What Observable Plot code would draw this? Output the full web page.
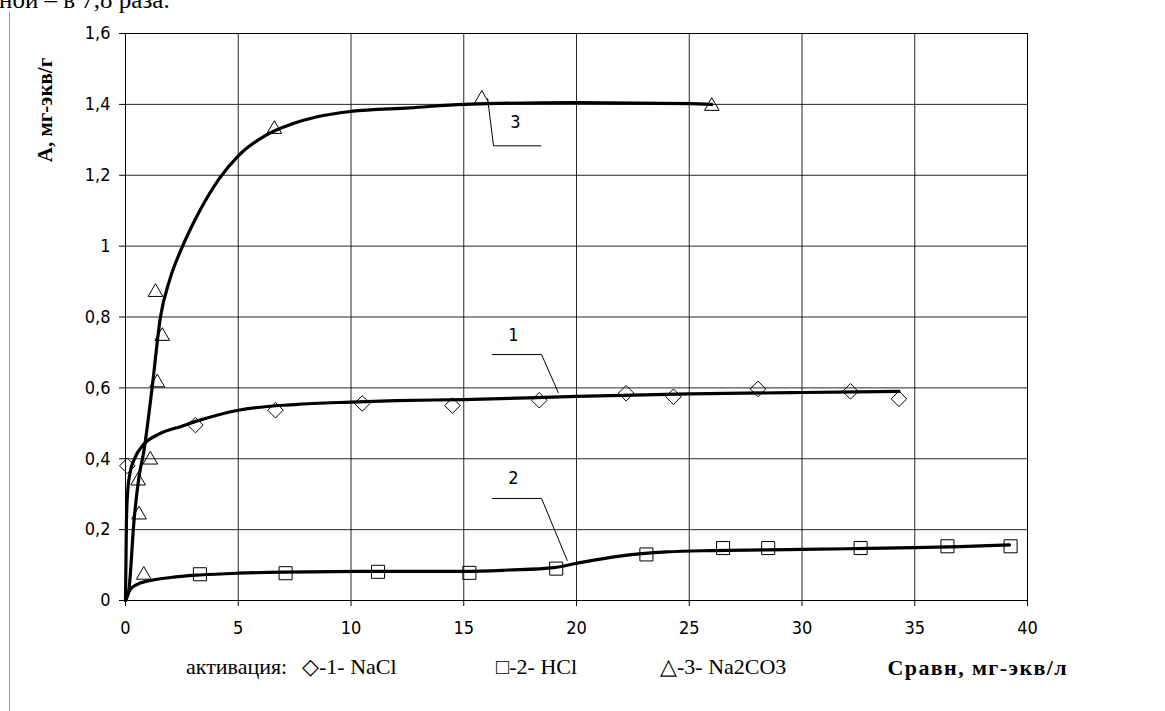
<!DOCTYPE html>
<html>
<head>
<meta charset="utf-8">
<script src="https://cdn.jsdelivr.net/npm/d3@7"></script>
<script src="https://cdn.jsdelivr.net/npm/@observablehq/plot@0.6"></script>
<style>
  html, body { margin: 0; padding: 0; background: #fff; }
  #wrap { position: relative; width: 1165px; height: 711px; overflow: hidden; background: #fff; }
  #chart { position: absolute; left: 0; top: 0; }
  .serif { font-family: "Liberation Serif", "Times New Roman", serif; color: #000; position: absolute; white-space: nowrap; line-height: 1; }
  #toptext { left: -1px; top: -13px; font-size: 25px; }
  #margin { position: absolute; left: 9px; top: 12px; width: 1px; height: 700px; background: #9a9a9a; }
  #ytitle { font-weight: bold; font-size: 21px; left: 45px; top: 110px; transform: translate(-50%, -50%) rotate(-90deg); }
  #xtitle { font-weight: bold; font-size: 22px; letter-spacing: 1.4px; right: 97px; top: 657px; }
  #legend { font-size: 22px; top: 656px; left: 0; }
  .lg { position: absolute; white-space: nowrap; }
</style>
</head>
<body>
<div id="wrap">
  <div id="toptext" class="serif">ной – в 7,8 раза.</div>
  <div id="margin"></div>
  <div id="chart"></div>
  <div id="ytitle" class="serif">А, мг-экв/г</div>
  <div id="xtitle" class="serif">Сравн, мг-экв/л</div>
  <div id="legend" class="serif">
    <span class="lg" style="left:186px">активация:</span>
    <span class="lg" style="left:302px">◇-1- NaCl</span>
    <span class="lg" style="left:496px">□-2- HCl</span>
    <span class="lg" style="left:660px">△-3- Na2CO3</span>
  </div>
</div>
<script>
// ---- data ----
const xTicks = [0, 5, 10, 15, 20, 25, 30, 35, 40];
const yTicks = [0, 0.2, 0.4, 0.6, 0.8, 1.0, 1.2, 1.4, 1.6];

// series 1: NaCl (diamonds)
const naclX = [0.08, 3.1, 6.65, 10.5, 14.5, 18.35, 22.2, 24.3, 28.05, 32.15, 34.3];
const naclY = [0.38, 0.495, 0.537, 0.556, 0.55, 0.565, 0.585, 0.575, 0.597, 0.59, 0.569];
// series 2: HCl (squares)
const hclX = [3.3, 7.1, 11.2, 15.25, 19.1, 23.1, 26.5, 28.5, 32.6, 36.45, 39.25];
const hclY = [0.074, 0.077, 0.081, 0.078, 0.09, 0.13, 0.148, 0.148, 0.148, 0.153, 0.153];
// series 3: Na2CO3 (triangles)
const sodaX = [0.56, 0.6, 0.81, 1.1, 1.41, 1.63, 1.33, 6.6, 15.8, 26.0];
const sodaY = [0.338, 0.242, 0.072, 0.397, 0.615, 0.746, 0.87, 1.33, 1.415, 1.395];

// fitted curves (as drawn)
const fit1X = [0, 0.04, 0.1, 0.2, 0.4, 0.8, 1.5, 2.5, 3.3, 5, 7.5, 10, 12, 15, 20, 25, 30, 34.3];
const fit1Y = [0, 0.22, 0.31, 0.36, 0.4, 0.44, 0.47, 0.492, 0.509, 0.537, 0.553, 0.56, 0.564, 0.567, 0.576, 0.583, 0.587, 0.59];
const fit2X = [0, 0.2, 0.5, 1, 2, 3.3, 5, 7, 11, 15, 17, 19, 20, 22, 24, 26, 30, 33, 35, 37, 39.2];
const fit2Y = [0, 0.03, 0.045, 0.055, 0.065, 0.072, 0.077, 0.08, 0.082, 0.082, 0.086, 0.093, 0.105, 0.126, 0.137, 0.141, 0.144, 0.147, 0.149, 0.152, 0.157];
const fit3X = [0, 0.15, 0.37, 0.6, 0.81, 1.18, 1.55, 1.97, 2.5, 3.13, 4.15, 5, 6.2, 7.4, 8.5, 10, 12.6, 15, 20, 25, 26];
const fit3Y = [0, 0.03, 0.22, 0.35, 0.42, 0.6, 0.8, 0.907, 0.995, 1.08, 1.19, 1.255, 1.312, 1.345, 1.365, 1.38, 1.39, 1.4, 1.405, 1.402, 1.4];

// curve number call-outs
const calloutLabels = ["1", "2", "3"];
const calloutLabelX = [17.2, 17.2, 17.29];
const calloutLabelY = [0.748, 0.346, 1.35];
const leader1X = [16.27, 18.45, 19.19], leader1Y = [0.694, 0.694, 0.587];
const leader2X = [16.27, 18.45, 19.59], leader2Y = [0.288, 0.288, 0.113];
const leader3X = [16.06, 16.32, 18.42], leader3Y = [1.416, 1.283, 1.283];

const zip = (xs, ys) => xs.map((x, i) => ({x, y: ys[i]}));
const comma = d => d3.format("~g")(+d.toFixed(2)).replace(".", ",");

const chart = Plot.plot({
  width: 1165,
  height: 645,
  marginTop: 33,
  marginLeft: 125,
  marginRight: 138,
  marginBottom: 45,
  style: {fontFamily: "'Liberation Sans Narrow', 'DejaVu Sans Condensed', sans-serif", fontSize: "18px", color: "#000", background: "transparent"},
  x: {domain: [0, 40], ticks: xTicks, label: null},
  y: {domain: [0, 1.6], ticks: yTicks, label: null},
  marks: [
    Plot.gridX(xTicks, {stroke: "#000", strokeOpacity: 0.85, strokeWidth: 1}),
    Plot.gridY(yTicks, {stroke: "#000", strokeOpacity: 0.85, strokeWidth: 1}),
    Plot.frame({stroke: "#000", strokeWidth: 1}),
    Plot.axisX({ticks: xTicks, tickSize: 6, tickPadding: 15, tickFormat: d => String(d), label: null, stroke: "#000"}),
    Plot.axisY({ticks: yTicks, tickSize: 6, tickPadding: 9, tickFormat: comma, label: null, stroke: "#000"}),
    Plot.line(zip(fit1X, fit1Y), {x: "x", y: "y", stroke: "#000", strokeWidth: 3.2, curve: "monotone-x"}),
    Plot.line(zip(fit2X, fit2Y), {x: "x", y: "y", stroke: "#000", strokeWidth: 3.2, curve: "monotone-x"}),
    Plot.line(zip(fit3X, fit3Y), {x: "x", y: "y", stroke: "#000", strokeWidth: 3.2, curve: "monotone-x"}),
    Plot.dot(zip(naclX, naclY), {x: "x", y: "y", symbol: "diamond2", r: 7, stroke: "#000", strokeWidth: 1, fill: "none"}),
    Plot.dot(zip(hclX, hclY), {x: "x", y: "y", symbol: "square2", r: 8.3, stroke: "#000", strokeWidth: 1, fill: "none"}),
    Plot.dot(zip(sodaX, sodaY), {x: "x", y: "y", symbol: "triangle2", r: 7, stroke: "#000", strokeWidth: 1, fill: "none"}),
    Plot.line(zip(leader1X, leader1Y), {x: "x", y: "y", stroke: "#000", strokeWidth: 1}),
    Plot.line(zip(leader2X, leader2Y), {x: "x", y: "y", stroke: "#000", strokeWidth: 1}),
    Plot.line(zip(leader3X, leader3Y), {x: "x", y: "y", stroke: "#000", strokeWidth: 1}),
    Plot.text(calloutLabels.map((t, i) => ({t, x: calloutLabelX[i], y: calloutLabelY[i]})),
      {x: "x", y: "y", text: "t", fill: "#000", fontSize: 18})
  ]
});
document.getElementById("chart").appendChild(chart);
</script>
</body>
</html>
